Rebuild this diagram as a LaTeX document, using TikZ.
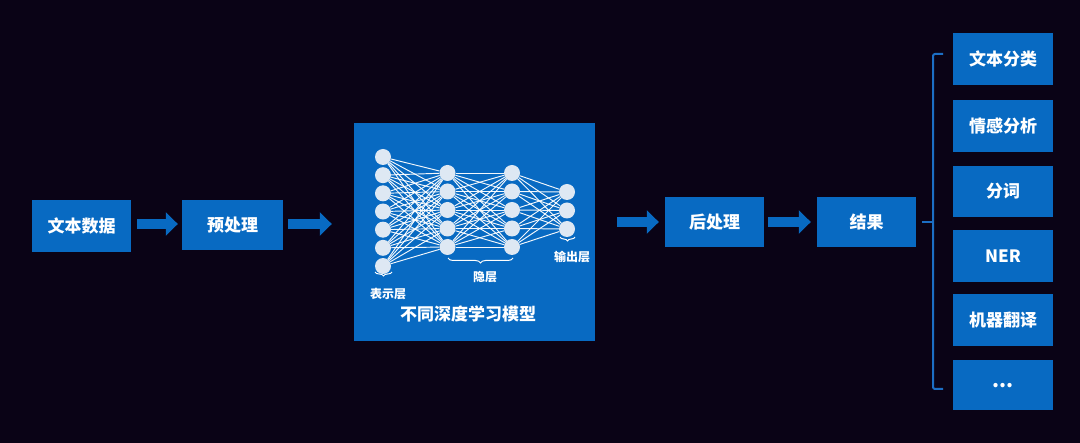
\documentclass[tikz,border=0pt]{standalone}
\usepackage{fontspec}
\newfontfamily\cjk{Noto Sans CJK SC}
\usetikzlibrary{arrows.meta,decorations.pathreplacing}
\definecolor{bgc}{RGB}{10,3,22}
\definecolor{boxblue}{RGB}{8,106,194}
\definecolor{bracec}{RGB}{28,110,196}
\definecolor{neuron}{RGB}{222,232,243}
\tikzset{
  blk/.style={fill=boxblue, inner sep=0pt, text=white, minimum width=100pt, minimum height=51pt,
              font=\cjk\bfseries\fontsize{17}{20}\selectfont},
  fatarrow/.style={draw=boxblue, line width=10pt, -{Triangle[length=12pt,width=23pt]}},
  neu/.style={circle, fill=neuron, minimum size=16pt, inner sep=0pt},
  syn/.style={draw=white, draw opacity=0.95, line width=0.95pt},
  smalllbl/.style={text=white, font=\cjk\bfseries\fontsize{12}{14}\selectfont, inner sep=0pt},
  wbrace/.style={draw=white, line width=1pt, decorate, decoration={brace, amplitude=#1}},
}
\begin{document}
\begin{tikzpicture}[x=1pt,y=-1pt]
\useasboundingbox[fill=bgc] (0,0) rectangle (1080,443);

% main flow boxes
\node[blk, minimum width=99pt, minimum height=52pt] (data) at (81.5,226) {文本数据};
\node[blk, minimum width=101pt, minimum height=50pt] (pre) at (232.5,225) {预处理};
\node[fill=boxblue, minimum width=241pt, minimum height=218pt, inner sep=0pt] (nn) at (474.5,232) {};
\node[blk, minimum width=99pt, minimum height=50pt] (post) at (714.5,222) {后处理};
\node[blk, minimum width=99pt, minimum height=50pt] (res) at (866.5,222) {结果};

% neural network
\foreach \i in {1,...,7} { \node[neu] (a\i) at (383,{157+18.17*(\i-1)}) {}; }
\foreach \i in {1,...,5} { \node[neu] (b\i) at (447.5,{173+18.5*(\i-1)}) {}; }
\foreach \i in {1,...,5} { \node[neu] (c\i) at (512,{173+18.5*(\i-1)}) {}; }
\foreach \i in {1,...,3} { \node[neu] (d\i) at (567,{192+18.5*(\i-1)}) {}; }
\foreach \i in {1,...,7} { \foreach \j in {1,...,5} { \draw[syn] (a\i) -- (b\j); } }
\foreach \i in {1,...,5} { \foreach \j in {1,...,5} { \draw[syn] (b\i) -- (c\j); } }
\foreach \i in {1,...,5} { \foreach \j in {1,...,3} { \draw[syn] (c\i) -- (d\j); } }

% small braces and labels
\coordinate (ba1) at (392,272); \coordinate (ba2) at (375,272);
\draw[wbrace=4pt] (ba1) -- (ba2);
\coordinate (bb1) at (513,258); \coordinate (bb2) at (448,258);
\draw[wbrace=5pt] (bb1) -- (bb2);
\coordinate (bd1) at (575,237); \coordinate (bd2) at (560,237);
\draw[wbrace=4pt] (bd1) -- (bd2);
\node[smalllbl] (lbla) at (388,294) {表示层};
\node[smalllbl] (lblb) at (485,277) {隐层};
\node[smalllbl] (lbld) at (572,257) {输出层};
\node[text=white, inner sep=0pt, font=\cjk\bfseries\fontsize{17}{20}\selectfont] (title) at (468,314) {不同深度学习模型};

% arrows
\draw[fatarrow, shorten <=6pt, shorten >=4pt] (data.east |- 0,224) -- (pre.west |- 0,224);
\draw[fatarrow, shorten <=5pt, shorten >=22pt] (pre.east |- 0,224) -- (nn.west |- 0,224);
\draw[fatarrow, shorten <=22pt, shorten >=6pt] (nn.east |- post.west) -- (post.west);
\draw[fatarrow, shorten <=4pt, shorten >=6pt] (post.east) -- (res.west);

% task boxes
\node[blk, minimum height=52pt] (t1) at (1003,59) {文本分类};
\node[blk, minimum height=52pt] (t2) at (1003,126) {情感分析};
\node[blk, minimum height=51pt] (t3) at (1003,191.5) {分词};
\node[blk, minimum height=52pt] (t4) at (1003,256) {NER};
\node[blk, minimum height=52pt] (t5) at (1003,320) {机器翻译};
\node[blk, minimum height=50pt, font=\cjk\bfseries\fontsize{20}{20}\selectfont] (t6) at (1003,385) {\raisebox{-5pt}{...}};

% big bracket
\coordinate (brt) at (943,54); \coordinate (brb) at (943,389); \coordinate (brm) at (922,222);
\draw[draw=bracec, line width=2pt, rounded corners=2pt] (brt) -- (933,54) -- (933,389) -- (brb);
\draw[draw=bracec, line width=2pt] (933,222) -- (brm);
\end{tikzpicture}
\end{document}
